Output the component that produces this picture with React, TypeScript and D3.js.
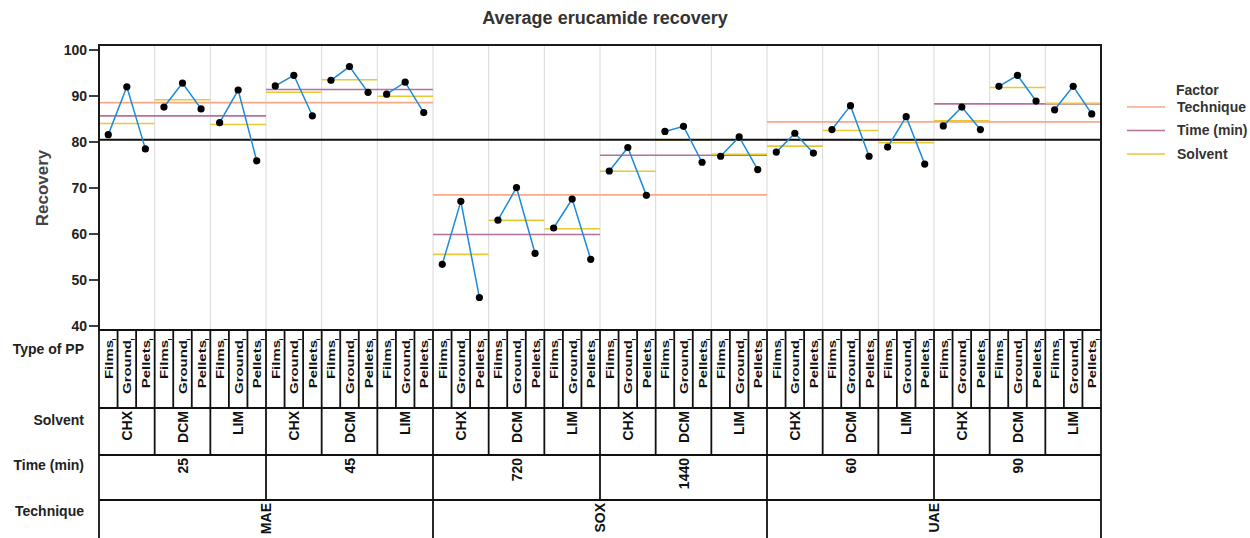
import React from 'react'
import * as d3 from 'd3'

// Factor levels, in plotting order
const techniques = ['MAE', 'SOX', 'UAE']
const timesByTechnique = [['25', '45'], ['720', '1440'], ['60', '90']]
const solvents = ['CHX', 'DCM', 'LIM']
const types = ['Films', 'Ground', 'Pellets']

// Recovery (%), one value per Technique/Time/Solvent/Type cell
const recovery = [
  // MAE 25
  81.6, 92.0, 78.5, 87.6, 92.8, 87.2, 84.2, 91.3, 75.9,
  // MAE 45
  92.2, 94.5, 85.7, 93.4, 96.4, 90.8, 90.4, 93.0, 86.4,
  // SOX 720
  53.4, 67.1, 46.2, 63.0, 70.1, 55.8, 61.3, 67.6, 54.5,
  // SOX 1440
  73.7, 78.8, 68.4, 82.3, 83.4, 75.6, 76.9, 81.1, 74.0,
  // UAE 60
  77.8, 81.9, 77.6, 82.7, 87.9, 76.9, 78.9, 85.5, 75.2,
  // UAE 90
  83.5, 87.6, 82.7, 92.1, 94.5, 88.9, 87.0, 92.1, 86.1,
]

const yTicks = [40, 50, 60, 70, 80, 90, 100]

const legendItems = [
  { label: 'Technique', color: '#F9A98A' },
  { label: 'Time (min)', color: '#B5719A' },
  { label: 'Solvent', color: '#E6C935' },
]

interface Row {
  i: number
  technique: string
  time: string
  solvent: string
  type: string
  value: number
}

const rows: Row[] = []
techniques.forEach((t, ti) => {
  timesByTechnique[ti].forEach((m) => {
    solvents.forEach((s) => {
      types.forEach((p) => {
        rows.push({ i: rows.length, technique: t, time: m, solvent: s, type: p, value: recovery[rows.length] })
      })
    })
  })
})

const W = 1250
const H = 538
const plot = { left: 99, right: 1101, top: 45, bottom: 330 }
const font = 'Liberation Sans, Arial, sans-serif'

export default function App() {
  const x = d3.scaleBand<number>()
    .domain(rows.map(r => r.i))
    .range([plot.left, plot.right])
    .padding(0)
  const bw = x.bandwidth()
  const cx = (i: number) => (x(i) || 0) + bw / 2

  const y = d3.scaleLinear().domain([40, 100]).range([326, 50])

  const grand = d3.mean(rows, r => r.value) || 0

  // group means for a given span of columns
  const groupMeans = (span: number) => {
    const out: { start: number; end: number; mean: number }[] = []
    for (let s = 0; s < rows.length; s += span) {
      const g = rows.slice(s, s + span)
      out.push({ start: s, end: s + span - 1, mean: d3.mean(g, r => r.value) || 0 })
    }
    return out
  }
  const techMeans = groupMeans(18)
  const timeMeans = groupMeans(9)
  const solvMeans = groupMeans(3)

  const segLine = d3.line<Row>().x(r => cx(r.i)).y(r => y(r.value))

  const levels = [
    { name: 'Type of PP', span: 1, top: 330, bottom: 408, labels: rows.map(r => r.type), labelY: 340, small: true, nameY: 354 },
    { name: 'Solvent', span: 3, top: 408, bottom: 455, labels: solvMeans.map((_, k) => solvents[k % 3]), labelY: 411, small: false, nameY: 425 },
    { name: 'Time (min)', span: 9, top: 455, bottom: 500, labels: timesByTechnique.flat(), labelY: 458, small: false, nameY: 470 },
    { name: 'Technique', span: 18, top: 500, bottom: 545, labels: techniques, labelY: 503, small: false, nameY: 516 },
  ]

  return (
    <div style={{ position: 'absolute', left: 0, top: 0 }}>
      <svg width={W} height={H} style={{ display: 'block', background: '#fff' }} fontFamily={font}>
        <text x={605} y={24} textAnchor="middle" fontSize={18} fontWeight="bold" fill="#333">
          Average erucamide recovery
        </text>

        {/* vertical grid at solvent boundaries */}
        {solvMeans.slice(1).map(g => (
          <line key={'g' + g.start} x1={x(g.start)} x2={x(g.start)} y1={plot.top} y2={plot.bottom}
            stroke="#DADADA" strokeWidth={1} />
        ))}

        {/* mean lines */}
        {techMeans.map(g => (
          <line key={'t' + g.start} x1={x(g.start)} x2={(x(g.end) || 0) + bw} y1={y(g.mean)} y2={y(g.mean)}
            stroke={legendItems[0].color} strokeWidth={1.6} />
        ))}
        {timeMeans.map(g => (
          <line key={'m' + g.start} x1={x(g.start)} x2={(x(g.end) || 0) + bw} y1={y(g.mean)} y2={y(g.mean)}
            stroke={legendItems[1].color} strokeWidth={1.6} />
        ))}
        {solvMeans.map(g => (
          <line key={'s' + g.start} x1={x(g.start)} x2={(x(g.end) || 0) + bw} y1={y(g.mean)} y2={y(g.mean)}
            stroke={legendItems[2].color} strokeWidth={1.6} />
        ))}

        <line x1={plot.left} x2={plot.right} y1={y(grand)} y2={y(grand)} stroke="#111" strokeWidth={2} />

        {/* data lines within each solvent group */}
        {solvMeans.map(g => (
          <path key={'d' + g.start} d={segLine(rows.slice(g.start, g.end + 1)) || ''}
            fill="none" stroke="#1B8ADB" strokeWidth={1.5} />
        ))}
        {rows.map(r => (
          <circle key={'p' + r.i} cx={cx(r.i)} cy={y(r.value)} r={3.6} fill="#000" />
        ))}

        {/* y axis */}
        {yTicks.map(v => (
          <g key={'y' + v}>
            <line x1={plot.left - 10} x2={plot.left} y1={y(v)} y2={y(v)} stroke="#000" strokeWidth={1.5} />
            <text x={plot.left - 12} y={y(v)} dy="0.35em" textAnchor="end" fontSize={14} fontWeight="bold" fill="#222">
              {v}
            </text>
          </g>
        ))}
        <text transform={`translate(48,${(y(40) + y(100)) / 2}) rotate(-90)`} textAnchor="middle"
          fontSize={17} fontWeight="bold" fill="#444">
          Recovery
        </text>

        {/* plot frame */}
        <rect x={plot.left} y={plot.top} width={plot.right - plot.left} height={plot.bottom - plot.top}
          fill="none" stroke="#1a1a1a" strokeWidth={2} />

        {/* factor table below the plot */}
        {levels.map(lv => (
          <g key={lv.name}>
            <text x={84} y={lv.nameY} textAnchor="end" fontSize={14} fontWeight="bold" fill="#222">{lv.name}</text>
            <line x1={plot.left} x2={plot.right} y1={lv.top} y2={lv.top} stroke="#111" strokeWidth={1.8} />
            {d3.range(0, rows.length + 1, lv.span).map(k => {
              const xx = k === rows.length ? plot.right : (x(k) || 0)
              return <line key={k} x1={xx} x2={xx} y1={lv.top} y2={lv.bottom} stroke="#111" strokeWidth={1.8} />
            })}
            {lv.labels.map((lab, k) => {
              const c = (x(k * lv.span) || 0) + (bw * lv.span) / 2
              return (
                <g key={'l' + k}>
                  <text transform={`translate(${lv.small ? c + 0.5 : c},${lv.labelY}) rotate(-90) scale(${lv.small ? 1.36 : 1},1)`}
                    textAnchor="end" dy="0.36em" fontSize={lv.small ? 11 : 14} fontWeight="bold" fill="#111">
                    {lab}
                  </text>
                  {lv.small && <line x1={c + 4} x2={c + 8} y1={339.5} y2={339.5} stroke="#111" strokeWidth={1} />}
                </g>
              )
            })}
          </g>
        ))}

        {/* legend */}
        <text x={1176} y={95} fontSize={14} fontWeight="bold" fill="#333">Factor</text>
        {legendItems.map((it, k) => (
          <g key={it.label} transform={`translate(0,${107 + k * 23.5})`}>
            <line x1={1127} x2={1165} y1={0} y2={0} stroke={it.color} strokeWidth={1.6} />
            <text x={1177} y={0} dy="0.35em" fontSize={14} fontWeight="bold" fill="#333">{it.label}</text>
          </g>
        ))}
      </svg>
    </div>
  )
}
